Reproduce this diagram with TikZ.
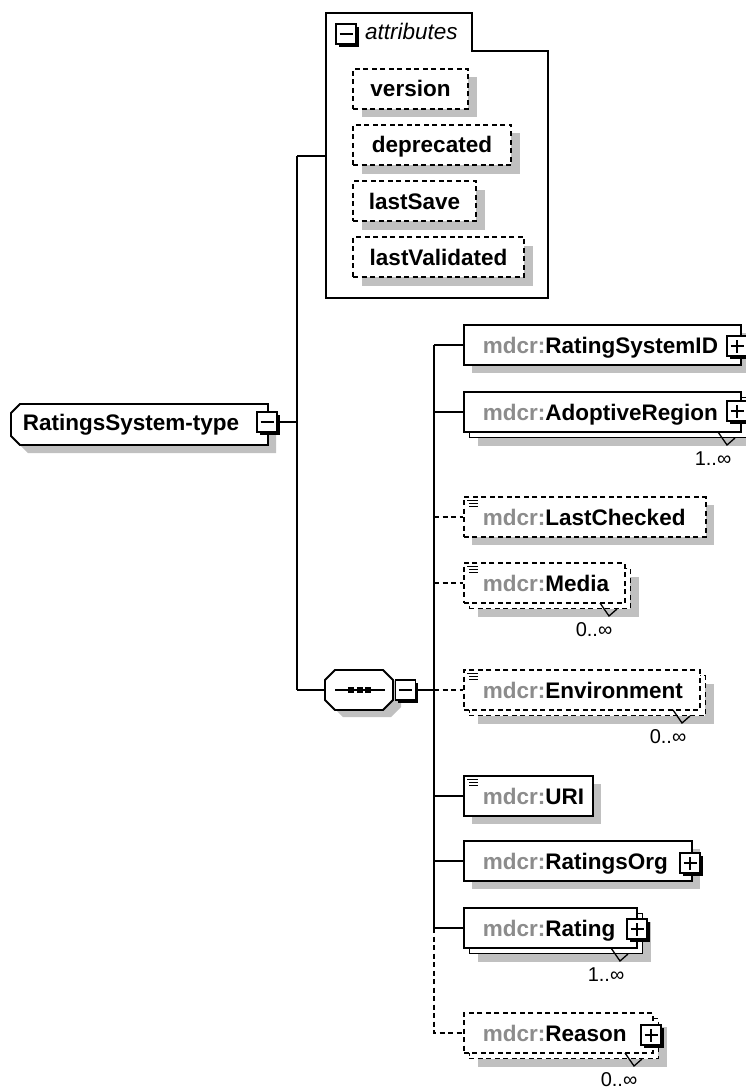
\documentclass[tikz,border=0pt]{standalone}
\usepackage{fontspec}
\setmainfont{Liberation Sans}
\usetikzlibrary{shadows}
\definecolor{shadowgray}{RGB}{192,192,192}
\definecolor{prefixgray}{RGB}{140,140,140}
\newcommand\elfont{\fontsize{22.5}{27}\selectfont\bfseries}
\newcommand\multfont{\fontsize{20}{24}\selectfont}
\newcommand\pfx{\textcolor{prefixgray}{mdcr:}}
\newcommand\eltext[2]{\makebox[#1pt][l]{\pfx#2}}
\newcommand\eqicon[1]{\draw[line width=1.1pt, solid] ([shift={(4,4)}]#1.north west) -- ++(11,0) ([shift={(6,7)}]#1.north west) -- ++(9,0) ([shift={(6,10)}]#1.north west) -- ++(9,0);}
\tikzset{
  lw/.style={line width=1.9pt},
  dsh/.style={dash pattern=on 5pt off 3.5pt},
  grayshadow/.style={general shadow={fill=shadowgray, draw=none, shadow xshift=#1, shadow yshift=-#1}},
  backcopy/.style={general shadow={fill=white, draw=black, line width=1.9pt, shadow xshift=5.5pt, shadow yshift=-5.5pt, #1}},
  elbox/.style={lw, draw=black, fill=white, minimum height=40pt, inner xsep=19pt, inner ysep=0pt, text height=16pt, text depth=0pt, anchor=west, font=\elfont},
  single/.style={grayshadow=8pt},
  multi/.style={grayshadow=14pt, backcopy=#1},
  multi/.default=solid,
  attrbox/.style={lw, dsh, draw=black, fill=white, grayshadow=8.5pt, minimum height=40pt, inner sep=0pt, text height=16pt, text depth=0pt, font=\elfont},
  icon/.style={draw=black, fill=white, line width=1.8pt, solid, minimum size=20pt, inner sep=0pt, general shadow={fill=black, draw=none, shadow xshift=2.8pt, shadow yshift=-2.8pt}},
  plusicon/.style={icon, path picture={\draw[line width=2pt] ([xshift=-6.5pt]path picture bounding box.center) -- ([xshift=6.5pt]path picture bounding box.center) ([yshift=-6.5pt]path picture bounding box.center) -- ([yshift=6.5pt]path picture bounding box.center);}},
  minusicon/.style={icon, path picture={\draw[line width=2pt] ([xshift=-6.5pt]path picture bounding box.center) -- ([xshift=6.5pt]path picture bounding box.center);}},
  mult/.style={font=\multfont, inner sep=0pt},
  notch/.style={line width=1.3pt, solid},
}
\begin{document}
\begin{tikzpicture}[x=1pt,y=-1pt]
\useasboundingbox (0,0) rectangle (746,1089);

% ---------- attributes group ----------
\draw[lw] (326,13) -- (472,13) -- (472,51) -- (548,51) -- (548,298) -- (326,298) -- cycle;
\node[minusicon] (amin) at (346,34) {};
\node[font=\fontsize{22.5}{27}\selectfont\itshape, anchor=base west, inner sep=0pt] (attrs) at (365,40) {attributes};
\coordinate (attrL) at (326,156);
\node[attrbox, minimum width=115pt] (a1) at (410.5,89) {version};
\node[attrbox, minimum width=158pt] (a2) at (432,145) {deprecated};
\node[attrbox, minimum width=123pt] (a3) at (414.5,201) {lastSave};
\node[attrbox, minimum width=171pt] (a4) at (438.5,257) {lastValidated};

% ---------- root ----------
\fill[shadowgray] (28,412) -- (276,412) -- (276,453) -- (28,453) -- (19,444) -- (19,421) -- cycle;
\draw[lw, fill=white] (20,404) -- (268,404) -- (268,445) -- (20,445) -- (11,436) -- (11,413) -- cycle;
\node[font=\elfont, text height=16pt, text depth=0pt, inner sep=0pt] (root) at (131,422.5) {RatingsSystem-type};
\node[minusicon] (rmin) at (267,422) {};

% ---------- sequence ----------
\fill[shadowgray] (343,677) -- (391,677) -- (401,687) -- (401,707) -- (391,717) -- (343,717) -- (333,707) -- (333,687) -- cycle;
\node[minimum width=68pt, minimum height=40pt, inner sep=0pt] (seq) at (359,690) {};
\draw[lw, fill=white] (335,670) -- (383,670) -- (393,680) -- (393,700) -- (383,710) -- (335,710) -- (325,700) -- (325,680) -- cycle;
\draw[lw] (335,690) -- (385,690);
\foreach \x in {351,359.5,368} \fill (\x-3,687) rectangle (\x+3,693);
\node[minusicon] (smin) at (405.5,690) {};

% ---------- root connectors ----------
\coordinate (t0) at (297,422);
\coordinate (t1) at (297,156);
\coordinate (t2) at (297,690);
\draw[lw] (rmin.east) -- (t0);
\draw[lw] (t1) -- (t2);
\draw[lw] (t1) -- (attrL);
\draw[lw] (t2) -- (seq.west);

% ---------- elements ----------
\node[elbox, single] (rsid) at (463,345) {\eltext{239}{RatingSystemID}};
\node[plusicon] (rsidp) at (737,346) {};

\node[elbox, multi] (adr) at (463,412) {\eltext{239}{AdoptiveRegion}};
\node[plusicon] (adrp) at (737,411) {};
\draw[notch] (718,432) -- (727,445) -- (735,438);
\node[mult] (adrm) at (713,459) {1..∞};

\node[elbox, dsh, single] (lchk) at (463,517) {\eltext{204}{LastChecked}};
\eqicon{lchk}

\node[elbox, dsh, multi=dsh] (media) at (463,583) {\eltext{123}{Media}};
\eqicon{media}
\draw[notch] (600,603) -- (609,616) -- (617,609);
\node[mult] (mediam) at (594,630) {0..∞};

\node[elbox, dsh, multi=dsh] (env) at (463,690) {\eltext{198}{Environment}};
\eqicon{env}
\draw[notch] (673,710) -- (682,723) -- (690,716);
\node[mult] (envm) at (668,737) {0..∞};

\node[elbox, single] (uri) at (463,796) {\eltext{91}{URI}};
\eqicon{uri}

\node[elbox, single] (rorg) at (463,861) {\eltext{190}{RatingsOrg}};
\node[plusicon] (rorgp) at (690,863) {};

\node[elbox, multi] (rating) at (463,928) {\eltext{135}{Rating}};
\node[plusicon] (ratingp) at (637,929) {};
\draw[notch] (611,948) -- (620,961) -- (628,954);
\node[mult] (ratingm) at (606,975) {1..∞};

\node[elbox, dsh, multi=dsh] (reason) at (463,1033) {\eltext{151}{Reason}};
\node[plusicon] (reasonp) at (651,1035) {};
\draw[notch] (625,1053) -- (634,1066) -- (642,1059);
\node[mult] (reasonm) at (619,1080) {0..∞};

% ---------- sequence bus ----------
\coordinate (bs) at (434,690);
\coordinate (b1) at (434,345);
\coordinate (b2) at (434,412);
\coordinate (b3) at (434,517);
\coordinate (b4) at (434,583);
\coordinate (b5) at (434,690);
\coordinate (b6) at (434,796);
\coordinate (b7) at (434,861);
\coordinate (b8) at (434,928);
\draw[lw] (smin.east) -- (bs);
\draw[lw] (b1) -- (b8);
\draw[lw, dsh] (b8) |- (reason.west);
\draw[lw] (b1) -- (rsid.west);
\draw[lw] (b2) -- (adr.west);
\draw[lw, dsh] (b3) -- (lchk.west);
\draw[lw, dsh] (b4) -- (media.west);
\draw[lw, dsh] (b5) -- (env.west);
\draw[lw] (b6) -- (uri.west);
\draw[lw] (b7) -- (rorg.west);
\draw[lw] (b8) -- (rating.west);
\end{tikzpicture}
\end{document}
